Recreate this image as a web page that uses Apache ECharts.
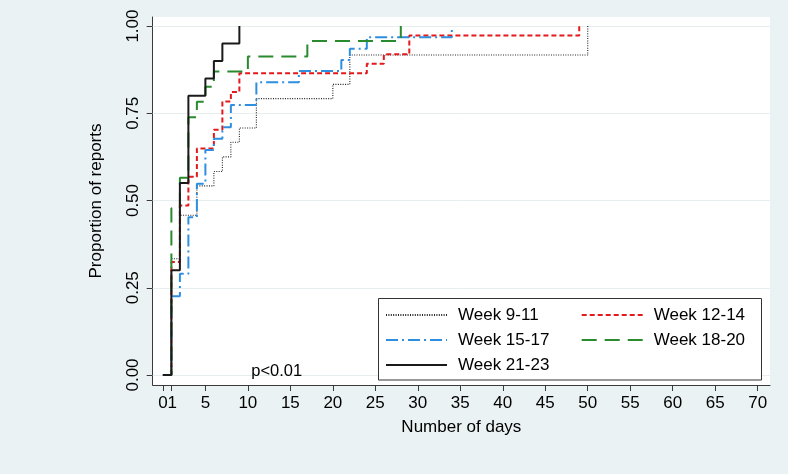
<!DOCTYPE html>
<html>
<head>
<meta charset="utf-8">
<script src="https://cdn.jsdelivr.net/npm/echarts@6/dist/echarts.min.js"></script>
<style>
html,body{margin:0;padding:0;background:#eaf2f3;}
#chart{width:788px;height:474px;}
</style>
</head>
<body>
<div id="chart"></div>
<script>
// ---- data ----
const seriesNames = ['Week 9-11', 'Week 12-14', 'Week 15-17', 'Week 18-20', 'Week 21-23'];

const days9_11  = [0, 1, 2, 4, 6, 7, 8, 9, 11, 20, 22, 50];
const prop9_11  = [0, 0.333, 0.458, 0.542, 0.583, 0.625, 0.667, 0.708, 0.792, 0.833, 0.917, 1];

const days12_14 = [0, 1, 2, 3, 4, 6, 7, 8, 9, 24, 26, 29, 49];
const prop12_14 = [0, 0.324, 0.486, 0.568, 0.649, 0.703, 0.784, 0.811, 0.865, 0.892, 0.919, 0.973, 1];

const days15_17 = [0, 1, 2, 3, 4, 5, 6, 7, 8, 11, 16, 21, 22, 24, 34];
const prop15_17 = [0, 0.226, 0.290, 0.452, 0.548, 0.645, 0.677, 0.710, 0.774, 0.839, 0.871, 0.903, 0.935, 0.968, 1];

const days18_20 = [0, 1, 2, 3, 4, 5, 6, 10, 17, 28];
const prop18_20 = [0, 0.478, 0.565, 0.739, 0.783, 0.826, 0.870, 0.913, 0.957, 1];

const days21_23 = [0, 1, 2, 3, 5, 6, 7, 9];
const prop21_23 = [0, 0.30, 0.55, 0.80, 0.85, 0.90, 0.95, 1];

const xTicks = [0, 1, 5, 10, 15, 20, 25, 30, 35, 40, 45, 50, 55, 60, 65, 70];
const xLabelValues = [0, 5, 10, 15, 20, 25, 30, 35, 40, 45, 50, 55, 60, 65, 70];
const yTicks = [0, 0.25, 0.5, 0.75, 1];

const annotationText = 'p<0.01';
const annotationAt = [13.4, 0.011];

// ---- styles ----
const FONT = "'Liberation Sans', Arial, Helvetica, sans-serif";
const styles = [
  {color: '#222222', type: [1, 1.4], width: 1.1},
  {color: '#e3191c', type: [5, 3], width: 2},
  {color: '#2e8fe0', type: [12, 4, 2, 4], width: 2},
  {color: '#2a8a2e', type: [15, 8], width: 2},
  {color: '#1a1a1a', type: 'solid', width: 2}
];
const allDays = [days9_11, days12_14, days15_17, days18_20, days21_23];
const allProps = [prop9_11, prop12_14, prop15_17, prop18_20, prop21_23];

function pairs(xs, ys) { return xs.map((x, i) => [x, ys[i]]); }

const series = seriesNames.map((name, i) => ({
  name: name,
  type: 'line',
  step: 'end',
  symbol: 'none',
  animation: false,
  data: pairs(allDays[i], allProps[i]),
  color: styles[i].color,
  lineStyle: {color: styles[i].color, type: styles[i].type, width: styles[i].width},
  z: 3 + i
}));

// gridlines at y ticks
series[0].markLine = {
  silent: true,
  symbol: 'none',
  z: 1,
  label: {show: false},
  lineStyle: {color: '#e6eef0', type: 'solid', width: 1},
  data: yTicks.map(v => ({yAxis: v}))
};
// p-value annotation
series[4].markPoint = {
  silent: true,
  symbol: 'circle',
  symbolSize: 0,
  label: {show: true, position: 'inside', formatter: annotationText, color: '#000', fontSize: 16.5, fontFamily: FONT},
  data: [{coord: annotationAt}]
};

const legendCommon = {
  orient: 'vertical', top: 306.5, padding: 0,
  itemWidth: 61, itemHeight: 14, itemGap: 8,
  itemStyle: {opacity: 0},
  textStyle: {fontSize: 17, color: '#000', fontFamily: FONT, padding: [0, 0, 0, 6]},
  selectedMode: false
};

const chart = echarts.init(document.getElementById('chart'), null, {renderer: 'canvas'});
chart.setOption({
  backgroundColor: '#eaf2f3',
  animation: false,
  textStyle: {fontFamily: FONT},
  grid: {left: 152.7, right: 18, top: 17, bottom: 89, show: true, backgroundColor: '#ffffff', borderWidth: 0, containLabel: false},
  xAxis: {
    type: 'value',
    min: -1.2, max: 71.45,
    name: 'Number of days',
    nameLocation: 'middle',
    nameGap: 34,
    nameTextStyle: {fontSize: 17, color: '#000', fontFamily: FONT},
    axisLine: {show: true, onZero: false, lineStyle: {color: '#3a3a3a', width: 1}},
    axisTick: {show: true, length: 6, customValues: xTicks, lineStyle: {color: '#3a3a3a'}},
    axisLabel: {
      customValues: xLabelValues, fontSize: 17, color: '#000', margin: 10, fontFamily: FONT,
      hideOverlap: false, showMinLabel: true, showMaxLabel: true,
      // ticks 0 and 1 sit 8.5px apart; their labels are drawn together as "01"
      formatter: v => (v === 0 ? '{p|}{n|0' + xTicks[1] + '}' : String(v)),
      rich: {
        p: {width: 9.45, fontSize: 17},
        n: {fontSize: 17, color: '#000', fontFamily: FONT}
      }
    },
    splitLine: {show: false}
  },
  yAxis: {
    type: 'value',
    min: -0.0287, max: 1.026,
    name: 'Proportion of reports',
    nameLocation: 'middle',
    nameRotate: 90,
    nameGap: 48,
    nameTextStyle: {fontSize: 17, color: '#000', fontFamily: FONT},
    axisLine: {show: true, onZero: false, lineStyle: {color: '#3a3a3a', width: 1}},
    axisTick: {show: true, length: 6, customValues: yTicks, lineStyle: {color: '#3a3a3a'}},
    axisLabel: {customValues: yTicks, rotate: 90, fontSize: 17, color: '#000', margin: 11, fontFamily: FONT,
      showMinLabel: true, showMaxLabel: true, formatter: v => v.toFixed(2)},
    splitLine: {show: false}
  },
  legend: [
    Object.assign({data: [seriesNames[0], seriesNames[2], seriesNames[4]], left: 385}, legendCommon),
    Object.assign({data: [seriesNames[1], seriesNames[3]], left: 580.7}, legendCommon)
  ],
  graphic: [
    {type: 'rect', z: 2, silent: true,
     shape: {x: 378.5, y: 298.5, width: 383, height: 81.5},
     style: {fill: '#ffffff', stroke: '#333333', lineWidth: 1}}
  ],
  series: series
});
</script>
</body>
</html>
